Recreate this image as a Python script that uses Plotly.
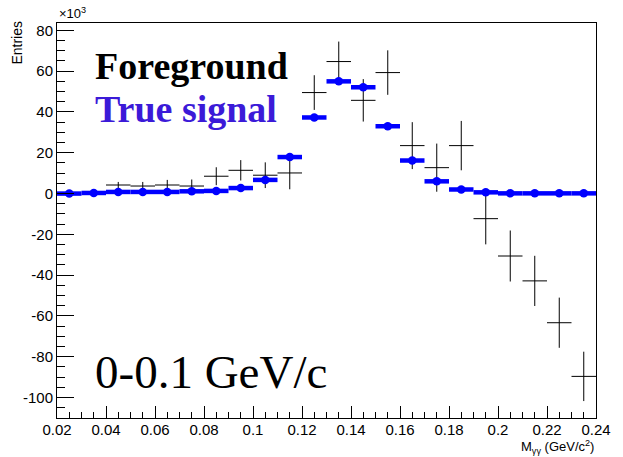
import plotly.graph_objects as go

# bin centres (GeV/c^2), bin width 0.01
bin_centers = [0.025, 0.035, 0.045, 0.055, 0.065, 0.075, 0.085, 0.095, 0.105, 0.115,
               0.125, 0.135, 0.145, 0.155, 0.165, 0.175, 0.185, 0.195, 0.205, 0.215,
               0.225, 0.235]
bin_half_width = 0.005

# Foreground (x10^3 entries)
fg_values = [None, None, 4.2, 3.7, 4.2, 3.7, 8.5, 11.4, 9.0, 10.1,
             49.5, 64.7, 45.7, 59.3, 23.5, 12.7, 23.5, -12.3, -30.6, -42.8,
             -63.3, -89.6]
fg_errors = [0, 0, 1.5, 2.0, 2.5, 3.2, 4.4, 5.0, 6.3, 8.0,
             8.5, 9.8, 10.4, 10.9, 11.5, 11.8, 12.1, 12.6, 12.5, 12.3,
             12.3, 12.1]

# True signal (x10^3 entries)
sig_values = [0.0, 0.3, 0.8, 0.8, 0.8, 1.1, 1.3, 2.7, 6.7, 17.9,
              37.3, 55.0, 52.1, 33.0, 16.2, 6.0, 2.0, 0.6, 0.1, 0.1,
              0.1, 0.1]

x_tick_vals = [0.02, 0.04, 0.06, 0.08, 0.10, 0.12, 0.14, 0.16, 0.18, 0.20, 0.22, 0.24]
x_tick_text = ["0.02", "0.04", "0.06", "0.08", "0.1", "0.12", "0.14", "0.16", "0.18", "0.2", "0.22", "0.24"]
y_tick_vals = [-100, -80, -60, -40, -20, 0, 20, 40, 60, 80]
y_tick_text = ["-100", "-80", "-60", "-40", "-20", "0", "20", "40", "60", "80"]

fig = go.Figure()

fig.add_trace(go.Scatter(
    x=bin_centers, y=fg_values, mode="markers",
    marker=dict(size=0.1, color="black", opacity=0),
    error_x=dict(type="constant", value=bin_half_width, width=0, thickness=1, color="black"),
    error_y=dict(type="data", array=fg_errors, width=0, thickness=1, color="black"),
    showlegend=False, hoverinfo="skip",
))

fig.add_trace(go.Scatter(
    x=bin_centers, y=sig_values, mode="markers",
    marker=dict(size=8.5, color="#0000ff"),
    error_x=dict(type="constant", value=bin_half_width, width=0, thickness=4.5, color="#0000ff"),
    showlegend=False,
))

axis_font = dict(family="Liberation Sans, Arial, sans-serif", size=15, color="black")

fig.update_layout(
    width=623, height=457,
    margin=dict(l=57, r=15, t=23, b=39),
    paper_bgcolor="white", plot_bgcolor="white",
    xaxis=dict(
        range=[0.02, 0.24], showgrid=False, zeroline=False,
        showline=True, linecolor="black", linewidth=1, mirror=True,
        ticks="inside", ticklen=12, tickwidth=1, tickcolor="black",
        tickvals=x_tick_vals, ticktext=x_tick_text,
        ticklabelstandoff=-2,
        minor=dict(dtick=0.005, tick0=0.02, ticks="inside", ticklen=6, tickcolor="black", showgrid=False),
        tickfont=axis_font,
    ),
    yaxis=dict(
        range=[-110, 83.6], showgrid=False, zeroline=False,
        showline=True, linecolor="black", linewidth=1, mirror=True,
        ticks="inside", ticklen=17, tickwidth=1, tickcolor="black",
        tickvals=y_tick_vals, ticktext=y_tick_text,
        minor=dict(dtick=5, tick0=0, ticks="inside", ticklen=8, tickcolor="black", showgrid=False),
        tickfont=axis_font,
    ),
)

ann_font = dict(family="Liberation Sans, Arial, sans-serif", size=14, color="black")
fig.add_annotation(text="×10<sup>3</sup>", xref="paper", yref="paper", x=0.0, y=1.0,
                   xanchor="left", yanchor="bottom", showarrow=False,
                   font=dict(family="Liberation Sans, Arial, sans-serif", size=13, color="black"))
fig.add_annotation(text="Entries", xref="paper", yref="paper", x=-0.055, y=1.012,
                   xanchor="right", yanchor="top", textangle=-90, showarrow=False, font=ann_font)
fig.add_annotation(text="M<sub>γγ</sub> (GeV/c<sup>2</sup>)", xref="paper", yref="paper",
                   x=1.0, y=-0.045, xanchor="right", yanchor="top", showarrow=False,
                   font=dict(family="Liberation Sans, Arial, sans-serif", size=13, color="black"))

fig.add_annotation(text="<b>Foreground</b>", xref="paper", yref="paper", x=0.066, y=0.891,
                   xanchor="left", yanchor="middle", showarrow=False,
                   font=dict(family="Liberation Serif, Times New Roman, serif", size=38, color="black"))
fig.add_annotation(text="<b>True signal</b>", xref="paper", yref="paper", x=0.066, y=0.782,
                   xanchor="left", yanchor="middle", showarrow=False,
                   font=dict(family="Liberation Serif, Times New Roman, serif", size=38, color="#3b1ad8"))
fig.add_annotation(text="0-0.1 GeV/c", xref="paper", yref="paper", x=0.066, y=0.116,
                   xanchor="left", yanchor="middle", showarrow=False,
                   font=dict(family="Liberation Serif, Times New Roman, serif", size=47, color="black"))

fig.write_html("out.html")
